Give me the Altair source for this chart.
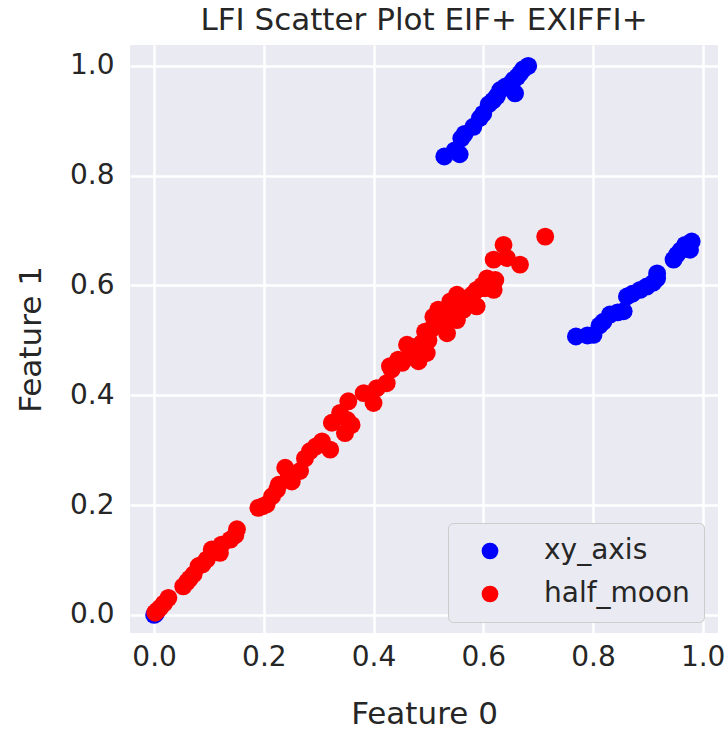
import altair as alt
import pandas as pd

# ---- data ----
xy_upper_x = [0.529, 0.548, 0.557, 0.560, 0.566, 0.582, 0.594, 0.600, 0.610, 0.618,
              0.625, 0.631, 0.640, 0.648, 0.655, 0.658, 0.662, 0.667, 0.673, 0.682]
xy_upper_y = [0.835, 0.846, 0.839, 0.868, 0.876, 0.889, 0.905, 0.913, 0.930, 0.937,
              0.945, 0.956, 0.962, 0.966, 0.974, 0.950, 0.980, 0.986, 0.994, 1.000]
xy_lower_x = [0.769, 0.790, 0.801, 0.812, 0.819, 0.831, 0.845, 0.856, 0.862, 0.872,
              0.886, 0.898, 0.910, 0.917, 0.917, 0.947, 0.953, 0.960, 0.968, 0.977, 0.980]
xy_lower_y = [0.507, 0.509, 0.510, 0.527, 0.534, 0.547, 0.551, 0.553, 0.580, 0.585,
              0.592, 0.598, 0.605, 0.613, 0.622, 0.647, 0.656, 0.664, 0.674, 0.665, 0.680]
xy_origin_x = [0.000, 0.003]
xy_origin_y = [0.000, 0.002]

hm_x = [0.002, 0.006, 0.011, 0.018, 0.026, 0.053, 0.060, 0.065, 0.072, 0.081, 0.088, 0.096,
        0.105, 0.112, 0.120, 0.123, 0.139, 0.151, 0.148, 0.190, 0.198, 0.205, 0.215, 0.224,
        0.227, 0.239, 0.245, 0.251, 0.266, 0.275, 0.284, 0.295, 0.306, 0.321, 0.324, 0.339,
        0.348, 0.352, 0.360, 0.354, 0.382, 0.400, 0.406, 0.424, 0.430, 0.433, 0.445, 0.452,
        0.461, 0.465, 0.470, 0.476, 0.482, 0.488, 0.497, 0.494, 0.500, 0.505, 0.509, 0.510,
        0.515, 0.518, 0.525, 0.530, 0.534, 0.540, 0.545, 0.548, 0.552, 0.552, 0.558, 0.564,
        0.570, 0.576, 0.582, 0.588, 0.588, 0.598, 0.603, 0.607, 0.619, 0.622, 0.619, 0.637,
        0.643, 0.667, 0.713]
hm_y = [0.004, 0.008, 0.013, 0.021, 0.031, 0.052, 0.060, 0.066, 0.074, 0.089, 0.092, 0.101,
        0.119, 0.115, 0.113, 0.128, 0.137, 0.156, 0.145, 0.195, 0.198, 0.201, 0.216, 0.228,
        0.237, 0.268, 0.250, 0.243, 0.262, 0.285, 0.298, 0.307, 0.316, 0.301, 0.350, 0.368,
        0.331, 0.355, 0.346, 0.389, 0.404, 0.386, 0.413, 0.422, 0.453, 0.447, 0.465, 0.459,
        0.492, 0.470, 0.480, 0.488, 0.462, 0.495, 0.477, 0.516, 0.500, 0.520, 0.543, 0.525,
        0.540, 0.556, 0.535, 0.552, 0.513, 0.571, 0.550, 0.565, 0.583, 0.537, 0.575, 0.556,
        0.570, 0.580, 0.585, 0.592, 0.562, 0.600, 0.595, 0.613, 0.592, 0.610, 0.647, 0.674,
        0.650, 0.638, 0.689]

categories = ["xy_axis", "half_moon"]
colors = ["blue", "red"]
tick_values = [0.0, 0.2, 0.4, 0.6, 0.8, 1.0]

xy_x = xy_origin_x + xy_upper_x + xy_lower_x
xy_y = xy_origin_y + xy_upper_y + xy_lower_y
df = pd.DataFrame({
    "x": xy_x + hm_x,
    "y": xy_y + hm_y,
    "label": [categories[0]] * len(xy_x) + [categories[1]] * len(hm_x),
    "order": list(range(len(xy_x) + len(hm_x))),
})

FONT = "DejaVu Sans"
TXT = "#262626"

chart = alt.Chart(df).mark_circle(size=320, opacity=1).encode(
    x=alt.X("x:Q", title="Feature 0",
            scale=alt.Scale(domain=[-0.044, 1.028], nice=False, zero=False),
            axis=alt.Axis(values=tick_values, format=".1f")),
    y=alt.Y("y:Q", title="Feature 1",
            scale=alt.Scale(domain=[-0.033, 1.038], nice=False, zero=False),
            axis=alt.Axis(values=tick_values, format=".1f")),
    color=alt.Color("label:N", title=None,
                    scale=alt.Scale(domain=categories, range=colors),
                    legend=alt.Legend(orient="none", legendX=318, legendY=478,
                                      padding=14, symbolOffset=14, labelOffset=40,
                                      rowPadding=15, symbolSize=280, symbolType="circle",
                                      fillColor="#EAEAF2", strokeColor="#CCCCCC",
                                      cornerRadius=5, labelFontSize=28, labelFont=FONT,
                                      labelColor=TXT, symbolStrokeWidth=0)),
    order=alt.Order("order:Q"),
).properties(
    width=588, height=588,
    title=alt.TitleParams("LFI Scatter Plot EIF+ EXIFFI+", fontSize=31, font=FONT,
                          fontWeight="normal", color=TXT, anchor="middle",
                          offset=8),
    autosize=alt.AutoSizeParams(type="none"),
    padding={"left": 130, "top": 45, "right": 9, "bottom": 99},
).configure_view(
    fill="#EAEAF2", stroke=None
).configure_axis(
    domain=False, ticks=False, grid=True, gridColor="white", gridWidth=2.5,
    labelFont=FONT, labelFontSize=28, labelColor=TXT,
    titleFont=FONT, titleFontSize=31, titleColor=TXT, titleFontWeight="normal",
).configure_axisX(
    labelPadding=10, titlePadding=28
).configure_axisY(
    labelPadding=16, titlePadding=22
)

chart.save("out.html", embed_options={"renderer": "svg", "actions": False})
